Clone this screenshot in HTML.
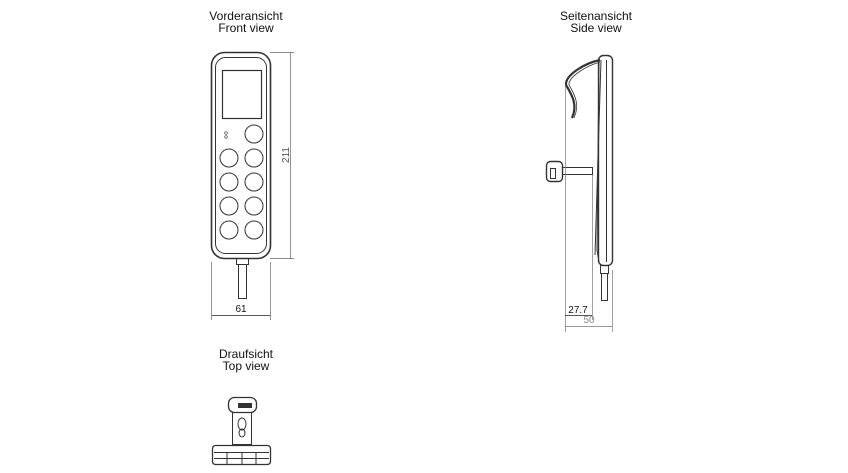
<!DOCTYPE html>
<html><head><meta charset="utf-8"><style>
html,body{margin:0;padding:0;background:#fff;}
svg{display:block;}
text{font-family:"Liberation Sans",sans-serif;}
</style></head><body>
<svg width="848" height="473" viewBox="0 0 848 473" xmlns="http://www.w3.org/2000/svg">
<g font-size="12" fill="#111" text-anchor="middle">
<text x="246" y="20">Vorderansicht</text><text x="246" y="32">Front view</text>
<text x="596" y="20">Seitenansicht</text><text x="596" y="32">Side view</text>
<text x="246" y="358">Draufsicht</text><text x="246" y="370">Top view</text>
</g>
<!-- Front view -->
<g fill="none" stroke="#333" stroke-width="1">
<rect x="211.5" y="52.5" width="59" height="206" rx="13" stroke-width="1.6"/>
<rect x="215.5" y="57.5" width="51" height="196" rx="10"/>
<rect x="222.5" y="70.5" width="39" height="48" stroke-width="1.2"/>
<circle cx="254" cy="134" r="9"/>
<circle cx="229" cy="158" r="9"/><circle cx="254" cy="158" r="9"/>
<circle cx="229" cy="182" r="9"/><circle cx="254" cy="182" r="9"/>
<circle cx="229" cy="206" r="9"/><circle cx="254" cy="206" r="9"/>
<circle cx="229" cy="230" r="9"/><circle cx="254" cy="230" r="9"/>
<rect x="236.5" y="258.5" width="12" height="6"/>
<rect x="238.5" y="264.5" width="8" height="34"/>
</g>
<circle cx="226" cy="133" r="1.3" fill="none" stroke="#444" stroke-width="0.7"/>
<circle cx="226" cy="137" r="1.3" fill="none" stroke="#444" stroke-width="0.7"/>
<g stroke="#666" stroke-width="0.7" fill="none">
<line x1="270" y1="52.5" x2="294" y2="52.5"/><line x1="270" y1="258.5" x2="294" y2="258.5"/>
<line x1="290.5" y1="52" x2="290.5" y2="259"/>
<line x1="211.5" y1="262" x2="211.5" y2="320"/><line x1="270.5" y1="262" x2="270.5" y2="320"/>
<line x1="212" y1="315.5" x2="270" y2="315.5" stroke="#222"/>
</g>
<text x="289" y="155" font-size="10" fill="#555" text-anchor="middle" transform="rotate(-90 289 155)">211</text>
<text x="241" y="312" font-size="10" fill="#111" text-anchor="middle">61</text>
<!-- Side view -->
<g fill="none" stroke="#333" stroke-width="1">
<rect x="598.5" y="55.5" width="14" height="210" rx="5" stroke-width="1.4"/>
<line x1="606.5" y1="60" x2="606.5" y2="262"/>
<path d="M599 60 L597 250 L599 262" />
<path d="M601 60 L595 255"/>
<path d="M600 60 C585 63 565 75 566 85 C572 95 578 105 572 118" stroke-width="2.2"/>
<path d="M600 62 C586 66 568 77 569 85 C575 95 580 105 574 118" stroke-width="0.8"/>
<rect x="546.5" y="161.5" width="16" height="20" rx="4" stroke-width="1.4"/>
<rect x="550.5" y="168.5" width="5" height="10"/>
<rect x="562.5" y="167.5" width="30" height="7"/>
<rect x="600.5" y="265.5" width="8" height="8"/>
<rect x="601.5" y="273.5" width="6" height="27"/>
</g>
<g stroke="#777" stroke-width="0.7">
<line x1="565.5" y1="85" x2="565.5" y2="332"/>
<line x1="612.5" y1="270" x2="612.5" y2="332"/>
<line x1="592.5" y1="175" x2="592.5" y2="320"/>
<line x1="565" y1="315.5" x2="592" y2="315.5" stroke="#222"/>
<line x1="565" y1="326.5" x2="612" y2="326.5"/>
</g>
<text x="578" y="313" font-size="10" fill="#111" text-anchor="middle">27.7</text>
<text x="589" y="323" font-size="10" fill="#888" text-anchor="middle">50</text>
<!-- Top view -->
<g fill="none" stroke="#333" stroke-width="1">
<rect x="228.5" y="397.5" width="28" height="15" rx="6" stroke-width="1.3"/>
<rect x="238.5" y="403.5" width="13" height="4" fill="#333"/>
<rect x="232.5" y="412.5" width="19" height="32"/>
<ellipse cx="242" cy="424" rx="4" ry="6"/>
<ellipse cx="242" cy="433" rx="3" ry="4"/>
<rect x="212.5" y="445.5" width="58" height="19" rx="3" stroke-width="1.3"/>
<line x1="214" y1="452.5" x2="269" y2="452.5"/>
<line x1="214" y1="458.5" x2="269" y2="458.5"/>
<line x1="227" y1="452" x2="227" y2="464"/>
<line x1="242" y1="452" x2="242" y2="464"/>
<line x1="256" y1="452" x2="256" y2="464"/>
</g>
</svg>
</body></html>
